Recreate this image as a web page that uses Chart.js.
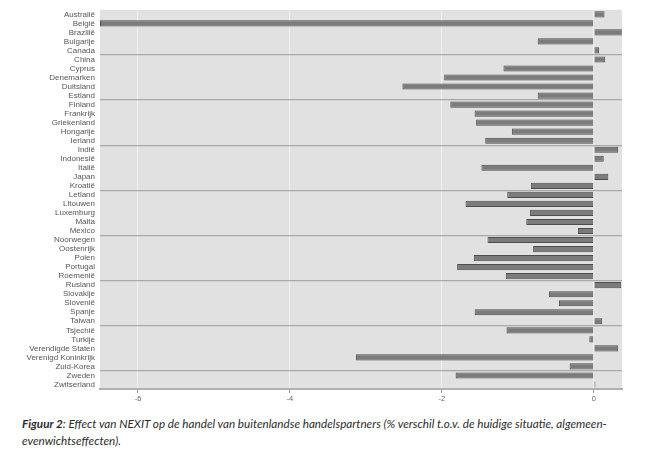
<!DOCTYPE html>
<html>
<head>
<meta charset="utf-8">
<script src="https://cdn.jsdelivr.net/npm/chart.js@4"></script>
<style>
  html, body { margin: 0; padding: 0; background: #fff; }
  #wrap { position: relative; width: 663px; height: 410px; }
  #cap { position: absolute; left: 22px; top: 415px; font-family: Lato, "Open Sans", sans-serif; font-style: italic; font-size: 11.7px; line-height: 17px; color: #2b2b2b; white-space: nowrap; }
</style>
</head>
<body>
<div id="wrap"><canvas id="c" width="663" height="410"></canvas></div>
<div id="cap"><b>Figuur 2</b>: Effect van NEXIT op de handel van buitenlandse handelspartners (% verschil t.o.v. de huidige situatie, algemeen-<br>evenwichtseffecten).</div>
<script>
const countries = ["Australië","België","Brazilië","Bulgarije","Canada","China","Cyprus","Denemarken","Duitsland","Estland","Finland","Frankrijk","Griekenland","Hongarije","Ierland","Indië","Indonesië","Italië","Japan","Kroatië","Letland","Litouwen","Luxemburg","Malta","Mexico","Noorwegen","Oostenrijk","Polen","Portugal","Roemenië","Rusland","Slovakije","Slovenië","Spanje","Taiwan","Tsjechië","Turkije","Verendigde Staten","Verenigd Koninkrijk","Zuid-Korea","Zweden","Zwitserland"];
const effect = [0.14,-6.5,0.38,-0.74,0.07,0.15,-1.19,-1.97,-2.52,-0.74,-1.89,-1.57,-1.55,-1.08,-1.43,0.32,0.13,-1.48,0.19,-0.83,-1.14,-1.69,-0.84,-0.89,-0.21,-1.40,-0.80,-1.58,-1.80,-1.16,0.36,-0.59,-0.46,-1.57,0.11,-1.15,-0.06,0.32,-3.13,-0.32,-1.82,0.02];
const xTicks = [-6,-4,-2,0];
const groupSize = 5;

const bgPlugin = {
  id: 'bg',
  beforeDraw(chart) {
    const a = chart.chartArea, ctx = chart.ctx;
    ctx.save();
    ctx.fillStyle = '#e1e1e1';
    ctx.fillRect(a.left, a.top, a.right - a.left, a.bottom - a.top);
    ctx.restore();
  }
};

new Chart(document.getElementById('c'), {
  type: 'bar',
  data: {
    labels: countries,
    datasets: [{
      data: effect,
      backgroundColor: '#7b7b7b',
      borderColor: '#4d4d4d',
      borderWidth: 1,
      barPercentage: 0.68,
      categoryPercentage: 1
    }]
  },
  options: {
    indexAxis: 'y',
    responsive: false,
    animation: false,
    layout: { padding: { top: 5, right: 41, left: 0, bottom: 0 } },
    plugins: { legend: { display: false }, tooltip: { enabled: false } },
    scales: {
      x: {
        min: -6.5, max: 0.37,
        afterBuildTicks: s => { s.ticks = xTicks.map(v => ({ value: v })); },
        afterFit: s => { s.height = 21; },
        grid: { color: '#f2f2f2', lineWidth: 1, tickColor: '#999', tickLength: 4 },
        border: { display: true, color: '#b0b0b0', width: 2 },
        ticks: { font: { family: 'Liberation Sans', size: 7.5 }, color: '#666', padding: 1 }
      },
      y: {
        afterFit: s => { s.width = 100; },
        grid: {
          offset: true,
          drawTicks: false,
          lineWidth: 1.2,
          color: c => (c.index > 0 && c.index < countries.length && c.index % groupSize === 0) ? '#a9a9a9' : 'rgba(0,0,0,0)'
        },
        border: { display: false },
        ticks: { autoSkip: false, font: { family: 'Liberation Sans', size: 8 }, color: '#555', padding: 5 }
      }
    }
  },
  plugins: [bgPlugin]
});
</script>
</body>
</html>
